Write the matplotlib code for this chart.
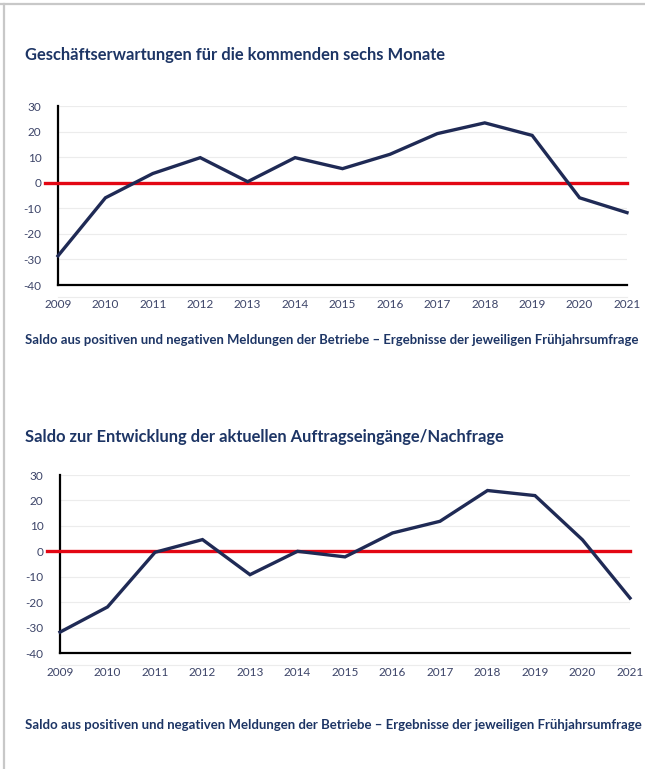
import matplotlib
matplotlib.use("Agg")
import matplotlib.pyplot as plt
from matplotlib.lines import Line2D

plt.rcParams["font.family"] = ["Lato", "DejaVu Sans"]

years = list(range(2009, 2022))
erwartungen = [-28.6, -5.9, 3.6, 9.8, 0.4, 9.8, 5.5, 11.1, 19.2, 23.4, 18.5, -5.9, -11.7]
auftraege = [-31.8, -21.9, -0.4, 4.6, -9.2, 0.0, -2.2, 7.2, 11.8, 23.9, 21.9, 4.5, -18.4]
y_ticks = [30, 20, 10, 0, -10, -20, -30, -40]

title_top = "Geschäftserwartungen für die kommenden sechs Monate"
title_bottom = "Saldo zur Entwicklung der aktuellen Auftragseingänge/Nachfrage"
footnote = ("Saldo aus positiven und negativen Meldungen der Betriebe – "
            "Ergebnisse der jeweiligen Frühjahrsumfrage")

NAVY = "#1f2a55"
TEXT = "#1d3565"
TICK = "#3c4468"
RED = "#e30613"

W, H = 645, 769
fig = plt.figure(figsize=(W / 100, H / 100), dpi=100)


def px_axes(left, top, right, bottom):
    return fig.add_axes([left / W, 1 - bottom / H, (right - left) / W, (bottom - top) / H])


def draw_panel(ax, values):
    ax.set_xlim(years[0], years[-1])
    ax.set_ylim(-40, 30)
    ax.set_yticks(y_ticks)
    ax.set_xticks(years)
    ax.set_yticklabels([str(t) for t in y_ticks])
    ax.tick_params(axis="both", length=0, labelsize=8.5, labelcolor=TICK)
    ax.tick_params(axis="y", pad=12)
    ax.tick_params(axis="x", pad=10)
    ax.grid(axis="y", color="#ececec", linewidth=0.8)
    for s in ("top", "right"):
        ax.spines[s].set_visible(False)
    ax.spines["left"].set_linewidth(1.6)
    ax.spines["bottom"].set_linewidth(1.6)
    ax.spines["left"].set_color("black")
    ax.spines["bottom"].set_color("black")
    # faint line below the axis
    ax.add_line(Line2D([0, 1], [-0.065, -0.065], transform=ax.transAxes,
                       color="#ececec", linewidth=0.8, clip_on=False))
    # red zero line, sticking out slightly left of the axis
    ax.add_line(Line2D([-0.023, 1], [0, 0], transform=ax.get_yaxis_transform(),
                       color=RED, linewidth=2.4, clip_on=False, zorder=3))
    ax.plot(years, values, color=NAVY, linewidth=2.4, zorder=4, clip_on=False,
            solid_joinstyle="miter")


ax1 = px_axes(58, 106, 627, 285)
draw_panel(ax1, erwartungen)
ax2 = px_axes(60, 475, 630, 653)
draw_panel(ax2, auftraege)

fig.text(25 / W, 1 - 55 / H, title_top, fontsize=11.9, fontweight="bold",
         color=TEXT, va="center", ha="left")
fig.text(25 / W, 1 - 340 / H, footnote, fontsize=9.42, fontweight="bold",
         color=TEXT, va="center", ha="left")
fig.text(25 / W, 1 - 437 / H, title_bottom, fontsize=11.9, fontweight="bold",
         color=TEXT, va="center", ha="left")
fig.text(25 / W, 1 - 725 / H, footnote, fontsize=9.5, fontweight="bold",
         color=TEXT, va="center", ha="left")

# light grey frame on top and left
fig.add_artist(Line2D([0, 1], [1 - 4 / H, 1 - 4 / H], transform=fig.transFigure,
                      color="#c8c8c8", linewidth=1.6))
fig.add_artist(Line2D([4 / W, 4 / W], [0, 1 - 4 / H], transform=fig.transFigure,
                      color="#c8c8c8", linewidth=1.6))

fig.savefig("out.png", dpi=100)
